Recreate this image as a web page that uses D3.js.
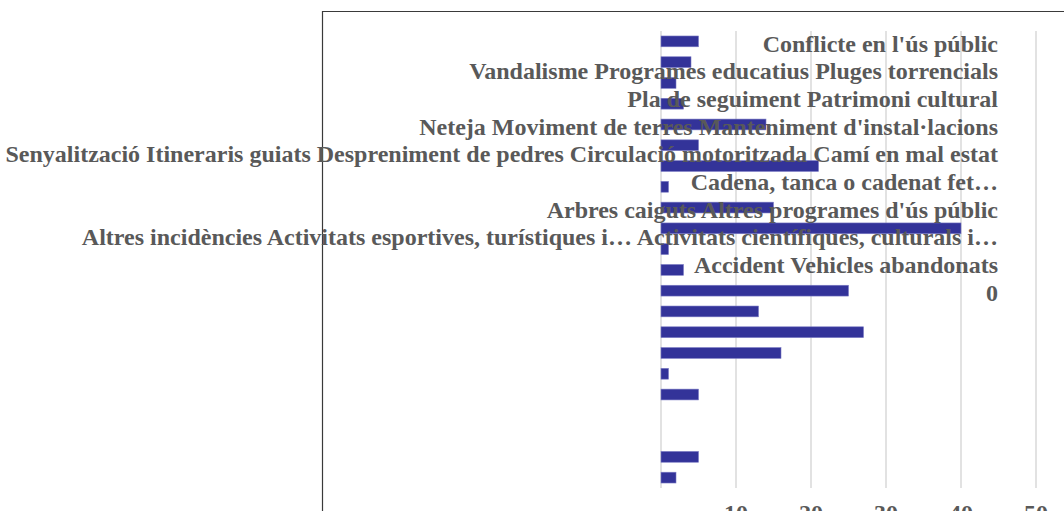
<!DOCTYPE html>
<html>
<head>
<meta charset="utf-8">
<style>
body {
   margin: 0;
   background: #fff;
}
svg text {
   font-family: "Liberation Serif", serif;
   font-weight: bold;
   fill: #595959;
}
</style>
</head>
<body>
<div id="chart"></div>
<script src="https://d3js.org/d3.v7.min.js"></script>
<script>

// bar values, top to bottom (22 slots)
var values = [5, 4, 2, 3, 14, 5, 21, 1, 15, 40, 1, 3, 25, 13, 27, 16, 1, 5, 0, 0, 5, 2];

// the category labels, as the chart squeezed them into lines
var labelLines = [
  ["Conflicte en l'ús públic"],
  ["Vandalisme", "Programes educatius", "Pluges torrencials"],
  ["Pla de seguiment", "Patrimoni cultural"],
  ["Neteja", "Moviment de terres", "Manteniment d'instal·lacions"],
  ["Senyalització", "Itineraris guiats", "Despreniment de pedres", "Circulació motoritzada", "Camí en mal estat"],
  ["Cadena, tanca o cadenat fet…"],
  ["Arbres caiguts", "Altres programes d'ús públic"],
  ["Altres incidències", "Activitats esportives, turístiques i…", "Activitats científiques, culturals i…"],
  ["Accident", "Vehicles abandonats"],
  ["0"]
];

var ticks = [10, 20, 30, 40, 50];

var W = 1064, H = 511;

var svg = d3.select("#chart").append("svg")
    .attr("width", W)
    .attr("height", H);

// outer frame (cut off at right and bottom)
svg.append("path")
    .attr("d", "M322.5," + H + "V11.5H" + W)
    .attr("fill", "none")
    .attr("stroke", "#3a3a3a")
    .attr("stroke-width", 1.2);

var x = d3.scaleLinear().domain([0, 50]).range([661, 1036]);
var y = d3.scaleBand().domain(d3.range(values.length)).range([31, 488]).paddingInner(0.48).paddingOuter(0.24);

// gridlines
svg.append("g")
  .selectAll("line")
  .data([0].concat(ticks))
  .enter().append("line")
    .attr("x1", function(d) { return x(d); })
    .attr("x2", function(d) { return x(d); })
    .attr("y1", 31)
    .attr("y2", 488)
    .attr("stroke", "#d9d9d9")
    .attr("stroke-width", 1.5);

// bars
svg.append("g")
  .selectAll("rect")
  .data(values)
  .enter().append("rect")
    .attr("x", x(0))
    .attr("y", function(d, i) { return y(i); })
    .attr("width", function(d) { return x(d) - x(0); })
    .attr("height", y.bandwidth())
    .attr("fill", "#333399")
    .attr("stroke", "#7b7bc4")
    .attr("stroke-width", 0.6);

// category labels, right aligned
var ly = d3.scalePoint().domain(d3.range(labelLines.length)).range([45, 294]);

svg.append("g")
  .selectAll("text")
  .data(labelLines)
  .enter().append("text")
    .attr("x", 998)
    .attr("y", function(d, i) { return ly(i); })
    .attr("dy", "0.28em")
    .attr("text-anchor", "end")
    .attr("font-size", 24)
    .text(function(d) { return d.join(" "); });

// tick labels
svg.append("g")
  .selectAll("text")
  .data(ticks)
  .enter().append("text")
    .attr("x", function(d) { return x(d); })
    .attr("y", 521)
    .attr("text-anchor", "middle")
    .attr("font-size", 24)
    .text(function(d) { return d; });

</script>
</body>
</html>
